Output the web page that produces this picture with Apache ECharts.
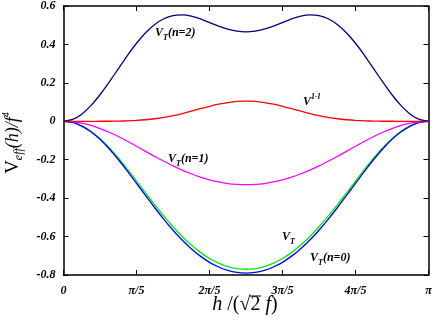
<!DOCTYPE html>
<html><head><meta charset="utf-8">
<script src="https://cdn.jsdelivr.net/npm/echarts@6/dist/echarts.min.js"></script>
<style>html,body{margin:0;padding:0;background:#fff}#c{width:436px;height:327px}</style>
</head><body><div id="c"></div>
<script>
// x in units of pi/5 (41 samples from 0 to pi)
const xPos = [0,0.125,0.25,0.375,0.5,0.625,0.75,0.875,1,1.125,1.25,1.375,1.5,1.625,1.75,1.875,2,2.125,2.25,2.375,2.5,
              2.625,2.75,2.875,3,3.125,3.25,3.375,3.5,3.625,3.75,3.875,4,4.125,4.25,4.375,4.5,4.625,4.75,4.875,5];
const xTickLabels = ['0','π/5','2π/5','3π/5','4π/5','π'];
const yTickLabels = ['-0.8','-0.6','-0.4','-0.2','0','0.2','0.4','0.6'];
const vtN2 = [0,0.0095,0.037,0.0813,0.138,0.2037,0.273,0.3423,0.406,0.4607,0.504,0.5335,0.550,0.5534,0.547,0.5325,0.514,0.4956,0.480,0.4688,0.465,
              0.4688,0.480,0.4956,0.514,0.5325,0.547,0.5534,0.550,0.5335,0.504,0.4607,0.406,0.3423,0.273,0.2037,0.138,0.0813,0.037,0.0095,0];
const v1l  = [0,0,0,0,0.0001,0.0003,0.0009,0.0021,0.0043,0.0079,0.0131,0.0203,0.0294,0.0403,0.0525,0.0653,0.0777,0.0888,0.0975,0.1031,0.105,
              0.1031,0.0975,0.0888,0.0777,0.0653,0.0525,0.0403,0.0294,0.0203,0.0131,0.0079,0.0043,0.0021,0.0009,0.0003,0.0001,0,0,0,0];
const vtN1 = [0,-0.0025,-0.010,-0.0216,-0.038,-0.0571,-0.079,-0.104,-0.130,-0.1563,-0.183,-0.2079,-0.232,-0.2538,-0.273,-0.2904,-0.305,-0.3156,-0.324,-0.3284,-0.330,
              -0.3284,-0.324,-0.3156,-0.305,-0.2904,-0.273,-0.2538,-0.232,-0.2079,-0.183,-0.1563,-0.130,-0.104,-0.079,-0.0571,-0.038,-0.0216,-0.010,-0.0025,0];
const vtN0 = [0,-0.0062,-0.025,-0.0544,-0.094,-0.1432,-0.199,-0.2593,-0.323,-0.3869,-0.450,-0.5104,-0.567,-0.618,-0.663,-0.7018,-0.734,-0.7583,-0.776,-0.7865,-0.790,
              -0.7865,-0.776,-0.7583,-0.734,-0.7018,-0.663,-0.618,-0.567,-0.5104,-0.450,-0.3869,-0.323,-0.2593,-0.199,-0.1432,-0.094,-0.0544,-0.025,-0.0062,0];
const vt   = [0,-0.006,-0.024,-0.0523,-0.091,-0.1378,-0.191,-0.2499,-0.311,-0.3736,-0.435,-0.494,-0.549,-0.5995,-0.644,-0.6822,-0.714,-0.7383,-0.756,-0.7665,-0.770,
              -0.7665,-0.756,-0.7383,-0.714,-0.6822,-0.644,-0.5995,-0.549,-0.494,-0.435,-0.3736,-0.311,-0.2499,-0.191,-0.1378,-0.091,-0.0523,-0.024,-0.006,0];

const pair = arr => arr.map((v,i)=>[xPos[i], v]);
const serif = 'Liberation Serif, Times New Roman, serif';
const tickFont = {fontFamily: serif, fontWeight:'bold', fontStyle:'italic', fontSize:12, color:'#000'};
const axLine = {show:true, onZero:false, lineStyle:{color:'#000', width:1.5}};
const axTick = {show:true, inside:true, length:5, lineStyle:{color:'#000', width:1}};

const chart = echarts.init(document.getElementById('c'), null, {renderer:'canvas'});
function line(name, data, color, z){
  return {name, type:'line', data: pair(data), smooth:0.2, showSymbol:false, z:z,
    lineStyle:{color, width:1.3}, itemStyle:{color}, animation:false};
}
const lab = (sz, extra) => Object.assign({fontFamily: serif, fontWeight:'bold', fontStyle:'italic', fontSize: sz, fill:'#000', lineHeight:18}, extra||{});
const richLbl = {
  m: lab(12, {verticalAlign:'middle'}),
  sub: lab(8, {verticalAlign:'bottom', lineHeight:18}),
  sup: lab(8, {verticalAlign:'top', lineHeight:18})
};
function tlabel(x, y, text){
  return {type:'text', x, y, z:100, style:{text, rich:richLbl, align:'left', verticalAlign:'middle'}};
}
chart.setOption({
  animation:false,
  backgroundColor:'#fff',
  grid:{left:63.5, right:7.5, top:6, bottom:52},
  xAxis:[{type:'value', min:0, max:5, interval:1, position:'bottom',
    axisLine:axLine, axisTick:axTick, splitLine:{show:false},
    axisLabel:Object.assign({margin:10, formatter:v=>xTickLabels[Math.round(v)]}, tickFont)},
   {type:'value', min:0, max:5, interval:1, position:'top',
    axisLine:axLine, axisTick:axTick, splitLine:{show:false}, axisLabel:{show:false}}],
  yAxis:[{type:'value', min:-0.8, max:0.6, interval:0.2, position:'left',
    axisLine:axLine, axisTick:axTick, splitLine:{show:false},
    axisLabel:Object.assign({margin:8, formatter:v=>yTickLabels[Math.round((v+0.8)/0.2)]}, tickFont)},
   {type:'value', min:-0.8, max:0.6, interval:0.2, position:'right',
    axisLine:axLine, axisTick:axTick, splitLine:{show:false}, axisLabel:{show:false}}],
  series:[
    line('VT', vt, '#00ee00', 3),
    line('VT(n=0)', vtN0, '#0000ff', 4),
    line('VT(n=1)', vtN1, '#ff00ff', 5),
    line('V1-l', v1l, '#ff0000', 6),
    line('VT(n=2)', vtN2, '#000080', 7)
  ],
  graphic:[
    tlabel(155, 33, '{m|V}{sub|T}{m|(n=2)}'),
    tlabel(303, 102, '{m|V}{sup|1-l}'),
    tlabel(168, 159, '{m|V}{sub|T}{m|(n=1)}'),
    tlabel(282, 237, '{m|V}{sub|T}'),
    tlabel(310, 258, '{m|V}{sub|T}{m|(n=0)}'),
    {type:'text', x:13, y:143, rotation:Math.PI/2, z:100,
      style:{text:'{a|V}{b|eff}{c|(h)/f}{d|4}', align:'center', verticalAlign:'middle',
        rich:{
          a:{fontFamily:serif, fontSize:19, fill:'#000', lineHeight:24, verticalAlign:'middle'},
          b:{fontFamily:serif, fontStyle:'italic', fontSize:12, fill:'#000', lineHeight:24, verticalAlign:'bottom'},
          c:{fontFamily:serif, fontStyle:'italic', fontSize:18, fill:'#000', lineHeight:24, verticalAlign:'middle'},
          d:{fontFamily:serif, fontStyle:'italic', fontSize:10, fill:'#000', lineHeight:24, verticalAlign:'top'}
        }}},
    {type:'text', x:245, y:305, z:100,
      style:{text:'{i|h}{r| /(√2 }{i|f}{r|)}', align:'center', verticalAlign:'middle',
        rich:{
          i:{fontFamily:serif, fontStyle:'italic', fontSize:20, fill:'#000'},
          r:{fontFamily:serif, fontSize:20, fill:'#000'}
        }}},
    {type:'line', z:100, shape:{x1:250, y1:296, x2:261, y2:296}, style:{stroke:'#000', lineWidth:1}}
  ]
});
</script></body></html>
